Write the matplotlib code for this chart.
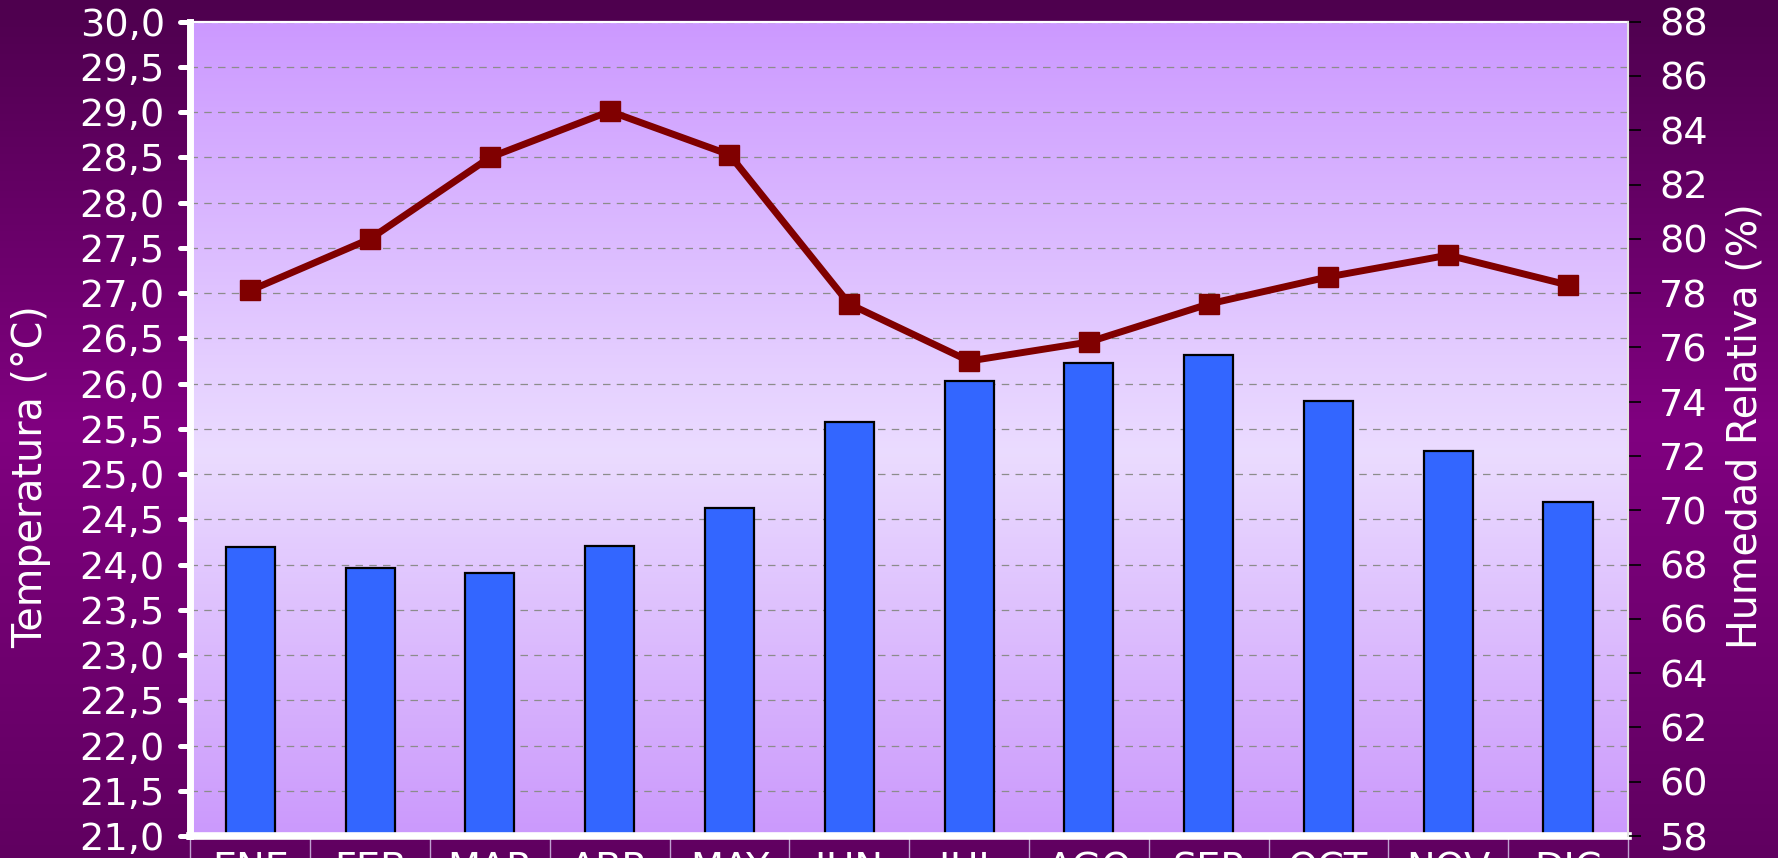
import numpy as np
import matplotlib
matplotlib.use('Agg')
import matplotlib.pyplot as plt
from matplotlib.colors import LinearSegmentedColormap
from matplotlib.markers import MarkerStyle, TICKLEFT
from matplotlib.ticker import FuncFormatter, MultipleLocator, FixedLocator

# data
meses = ['ENE', 'FEB', 'MAR', 'ABR', 'MAY', 'JUN', 'JUL', 'AGO', 'SEP', 'OCT', 'NOV', 'DIC']
temperatura = [24.19, 23.96, 23.91, 24.21, 24.62, 25.58, 26.03, 26.23, 26.32, 25.81, 25.25, 24.69]
humedad = [78.1, 80.0, 83.0, 84.7, 83.1, 77.6, 75.5, 76.2, 77.6, 78.6, 79.4, 78.3]

plt.rcParams['font.family'] = 'DejaVu Sans'

fig = plt.figure(figsize=(17.78, 8.58), dpi=100)

# figure background gradient (dark purple -> purple -> dark purple)
bg = fig.add_axes([0, 0, 1, 1], zorder=-10)
bg_cmap = LinearSegmentedColormap.from_list('bg', [(0, '#4e004e'), (0.5, '#800080'), (1, '#600060')])
bg.imshow(np.linspace(0, 1, 256).reshape(-1, 1), cmap=bg_cmap, aspect='auto', extent=[0, 1, 0, 1])
bg.set_axis_off()

pos = [0.1071, 0.0256, 0.9156 - 0.1071, 0.9747 - 0.0256]

# plot area gradient
pa = fig.add_axes(pos, zorder=-5)
pa_cmap = LinearSegmentedColormap.from_list('pa', [(0, '#cc99ff'), (0.53, '#ebdcff'), (1, '#cb99fc')])
pa.imshow(np.linspace(0, 1, 256).reshape(-1, 1), cmap=pa_cmap, aspect='auto', extent=[0, 1, 0, 1])
pa.set_axis_off()

ax = fig.add_axes(pos)
ax.patch.set_visible(False)
x = np.arange(len(meses))

ax.bar(x, temperatura, width=0.41, color='#3366ff', edgecolor='black', linewidth=1.6, zorder=2)
ax.set_xlim(-0.5, len(meses) - 0.5)
ax.set_ylim(21, 30)
ax.set_axisbelow(True)
ax.yaxis.set_major_locator(MultipleLocator(0.5))
ax.yaxis.set_major_formatter(FuncFormatter(lambda v, _: f"{v:.1f}".replace('.', ',')))
ax.yaxis.grid(True, color='#8c8c8c', linestyle=(0, (6, 5)), linewidth=0.9)

# month labels sit just below the axis, partly outside the figure as in the original
ax.set_xticks(x)
ax.set_xticklabels(meses)
ax.xaxis.set_minor_locator(FixedLocator(np.arange(-0.5, len(meses), 1.0)))
ax.tick_params(axis='x', which='major', length=0, pad=11, labelsize=27.5, labelcolor='white')
ax.tick_params(axis='x', which='minor', length=24, width=1.0, color='#c0a0d0', direction='out')
ax.tick_params(axis='y', length=7.5, width=3.6, color='white', pad=11, labelsize=27.5,
               labelcolor='white', direction='out')
for t in ax.yaxis.get_major_ticks():
    t.tick1line.set_marker(MarkerStyle(TICKLEFT, capstyle='round'))

for side in ['left', 'bottom']:
    ax.spines[side].set_color('white')
ax.spines['left'].set_linewidth(5)
ax.spines['bottom'].set_linewidth(5.5)
ax.spines['top'].set_color('white')
ax.spines['top'].set_linewidth(1.6)
ax.spines['right'].set_visible(False)

ax2 = ax.twinx()
ax2.plot(x, humedad, color='#800000', linewidth=5, marker='s', markersize=14.5,
         markerfacecolor='#800000', markeredgecolor='#800000', zorder=3)
ax2.set_ylim(58, 88)
ax2.yaxis.set_major_locator(MultipleLocator(2))
ax2.tick_params(axis='y', length=9.5, width=1.2, color='black', pad=13, labelsize=27.5,
                labelcolor='white', direction='out')
for side in ['left', 'top', 'bottom']:
    ax2.spines[side].set_visible(False)
ax2.spines['right'].set_color('#e4e4e4')
ax2.spines['right'].set_linewidth(1.5)

fig.text(0.0174, 0.444, 'Temperatura (°C)', rotation=90, ha='center', va='center',
         fontsize=28.5, color='white')
fig.text(0.982, 0.5035, 'Humedad Relativa (%)', rotation=90, ha='center', va='center',
         fontsize=28.5, color='white')

fig.savefig('out.png', dpi=100)
